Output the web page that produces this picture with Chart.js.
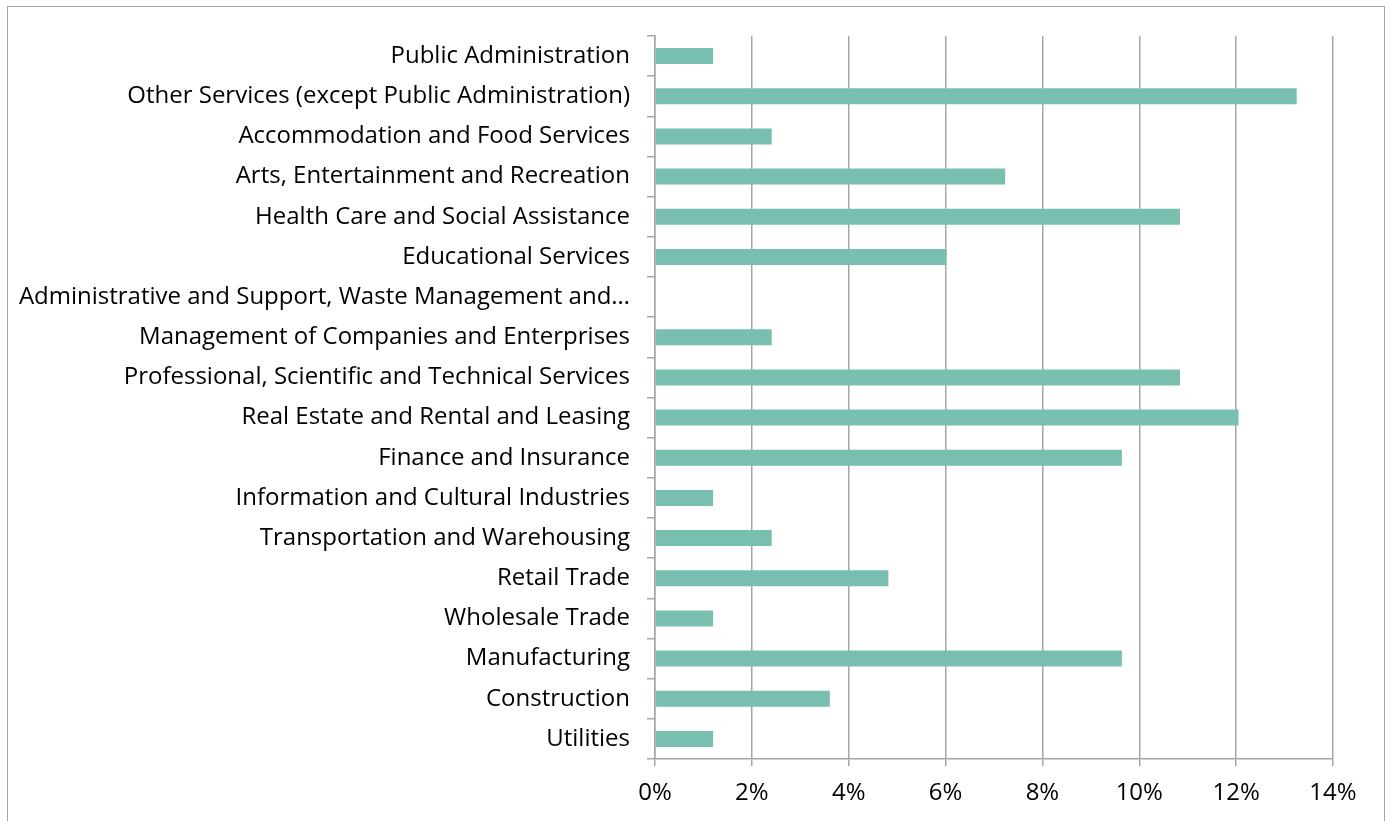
<!DOCTYPE html>
<html>
<head>
<meta charset="utf-8">
<script src="https://cdn.jsdelivr.net/npm/chart.js@4"></script>
<style>
html,body{margin:0;padding:0;background:#fff;overflow:hidden;}
#wrap{position:absolute;left:0;top:0;width:1391px;height:821px;}
#frame{position:absolute;left:7px;top:6px;width:1378px;height:830px;border:1.5px solid #a6a6a6;box-sizing:border-box;pointer-events:none;}
</style>
</head>
<body>
<div id="wrap"><canvas id="c" width="1391" height="821"></canvas></div>
<div id="frame"></div>
<script>
const categories = [
  "Public Administration",
  "Other Services (except Public Administration)",
  "Accommodation and Food Services",
  "Arts, Entertainment and Recreation",
  "Health Care and Social Assistance",
  "Educational Services",
  "Administrative and Support, Waste Management and\u2026",
  "Management of Companies and Enterprises",
  "Professional, Scientific and Technical Services",
  "Real Estate and Rental and Leasing",
  "Finance and Insurance",
  "Information and Cultural Industries",
  "Transportation and Warehousing",
  "Retail Trade",
  "Wholesale Trade",
  "Manufacturing",
  "Construction",
  "Utilities"
];
const shares = [1.20, 13.25, 2.41, 7.23, 10.84, 6.02, 0, 2.41, 10.84, 12.05, 9.64, 1.20, 2.41, 4.82, 1.20, 9.64, 3.61, 1.20];
const xTicks = [0, 2, 4, 6, 8, 10, 12, 14];

const FONT = "'Open Sans', sans-serif";
new Chart(document.getElementById('c'), {
  type: 'bar',
  data: {
    labels: categories,
    datasets: [{
      data: shares,
      backgroundColor: '#78bfb0',
      borderWidth: 0,
      categoryPercentage: 1,
      barPercentage: 0.4
    }]
  },
  options: {
    indexAxis: 'y',
    responsive: false,
    animation: false,
    layout: { padding: { left: 0, top: 36, right: 58, bottom: 0 } },
    plugins: { legend: { display: false }, tooltip: { enabled: false } },
    scales: {
      x: {
        min: 0, max: 14,
        afterBuildTicks: s => { s.ticks = xTicks.map(v => ({ value: v })); },
        afterFit: s => { s.height = 62; },
        ticks: {
          callback: v => v + '%',
          color: '#000',
          font: { family: FONT, size: 24 },
          padding: 13
        },
        grid: { color: '#a6a6a6', lineWidth: 1.5, tickLength: 7 },
        border: { color: '#a6a6a6', width: 1.5 }
      },
      y: {
        afterFit: s => { s.width = 655; },
        ticks: {
          color: '#000',
          font: { family: FONT, size: 24 },
          padding: 17,
          autoSkip: false
        },
        grid: { offset: true, drawOnChartArea: false, color: '#a6a6a6', lineWidth: 1.5, tickLength: 8 },
        border: { color: '#a6a6a6', width: 1.5 }
      }
    }
  }
});
</script>
</body>
</html>
